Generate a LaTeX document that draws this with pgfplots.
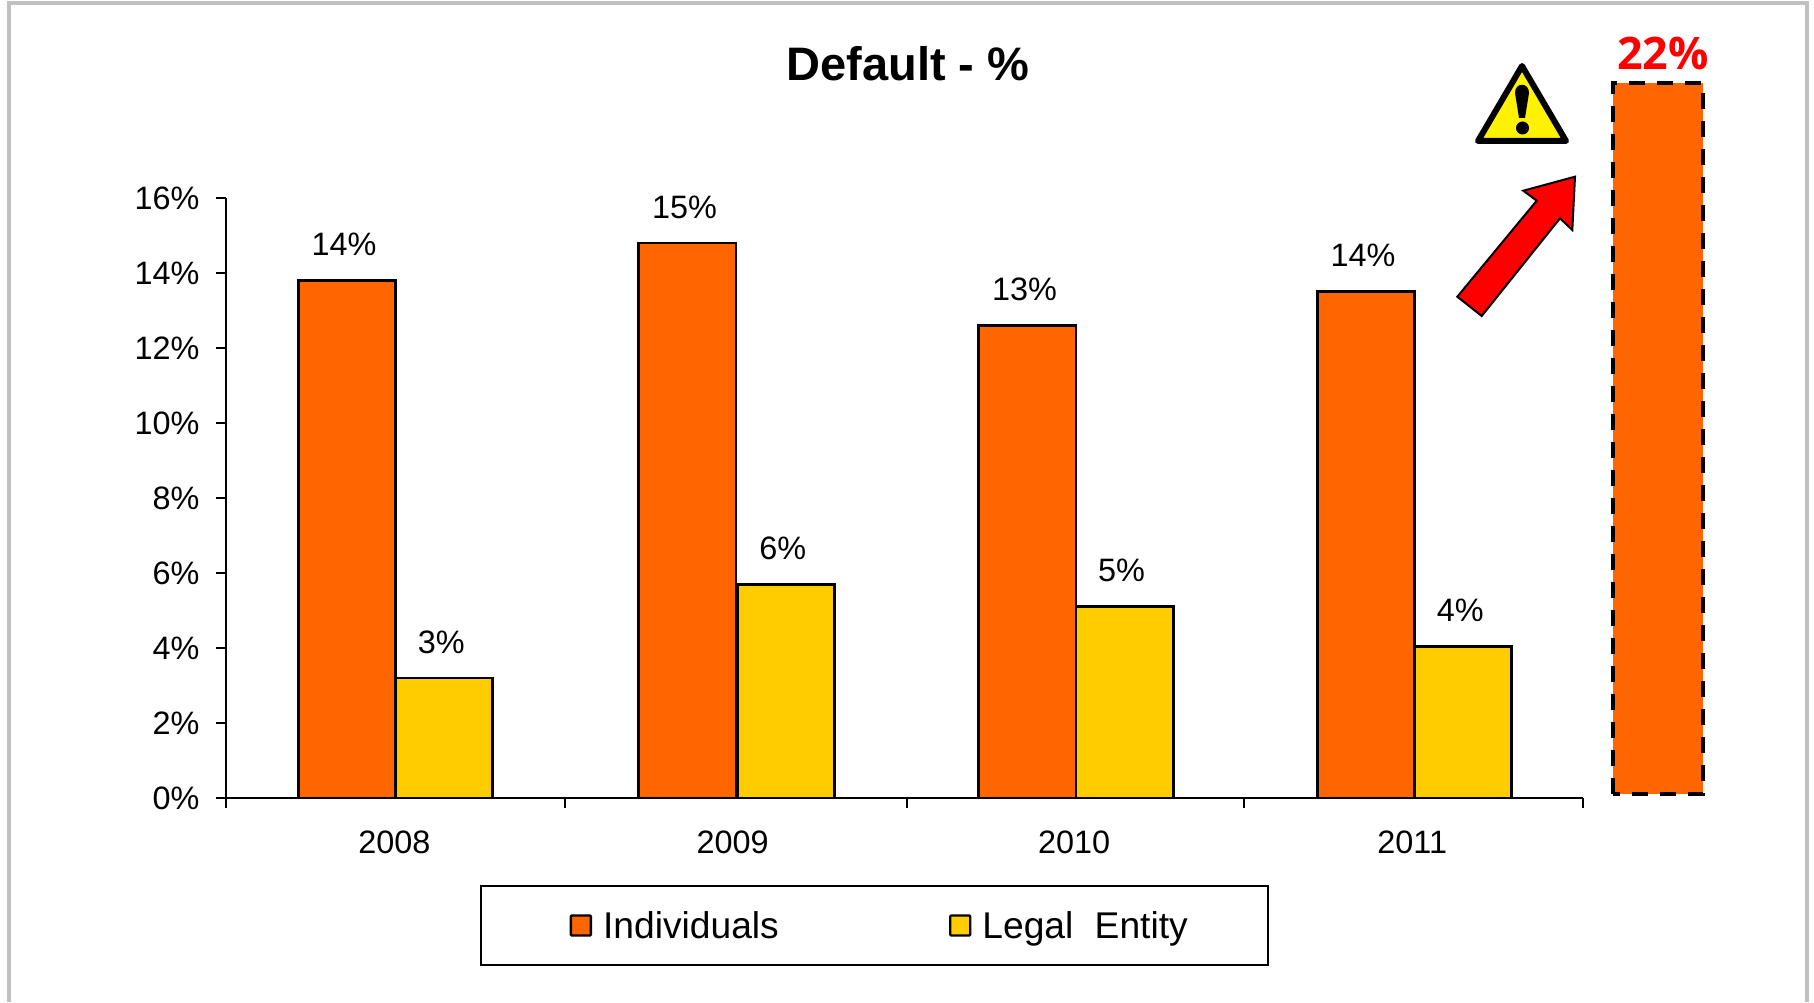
\documentclass[border=0pt]{standalone}
\usepackage{pgfplots}
\pgfplotsset{compat=1.18}
\usepackage{fontspec}
\setmainfont{Liberation Sans}
\newfontfamily\osans{Open Sans}
\definecolor{barorange}{HTML}{FF6600}
\definecolor{baryellow}{HTML}{FFCC00}
\definecolor{framegray}{HTML}{C0C0C0}
\begin{document}
\begin{tikzpicture}
\useasboundingbox (-113pt,-102pt) rectangle (794pt,399pt);
\begin{axis}[
  scale only axis, width=678.5pt, height=300pt,
  at={(0,0)}, anchor=origin,
  clip=false,
  xmin=0, xmax=4, ymin=0, ymax=16,
  axis x line=bottom, axis y line=left,
  axis line style={-, line width=1.1pt, black},
  tick style={black, line width=1.1pt},
  tick align=outside, major tick length=5pt,
  ytick={0,2,...,16},
  yticklabel={\pgfmathprintnumber[assume math mode=true]{\tick}\%},
  xtick={0,1,2.008,3,4}, xticklabels={},
  extra x ticks={0.4966,1.4932,2.5,3.4966},
  extra x tick labels={2008,2009,2010,2011},
  extra x tick style={major tick length=0pt},
  /pgf/number format/assume math mode=true,
  /pgf/number format/1000 sep={},
  tick label style={font=\fontsize{16.2}{18}\selectfont},
  yticklabel style={xshift=-4.7pt},
  xticklabel style={yshift=-13pt},
  title={Default - \%},
  title style={at={(rel axis cs:0.5026,1.2043)}, anchor=center, font=\fontsize{23.5}{26}\selectfont\bfseries},
  legend style={at={(rel axis cs:0.4777,-0.2125)}, anchor=center, legend columns=2,
    draw=black, line width=1.1pt, font=\fontsize{18.6}{21}\selectfont,
    inner xsep=37.9pt, inner ysep=10.6pt,
    /tikz/column 1/.style={column sep=3.5pt},
    /tikz/column 2/.style={column sep=76.6pt},
    /tikz/column 3/.style={column sep=3.5pt}},
  legend image code/.code={\path (-6.4pt,0pt); \draw[#1, line width=1.2pt, solid, rounded corners=0.5pt] (0pt,-5pt) rectangle (10pt,5pt);},
  nodes near coords style={font=\fontsize{16.2}{18}\selectfont, black, xshift=-1.45pt, yshift=8.3pt},
]
\addplot[ybar, bar width=0.2865, bar shift=0pt, fill=barorange, draw=black, line width=1.4pt,
  nodes near coords={\pgfmathprintnumber[fixed,precision=0]{\pgfplotspointmeta}\%}]
  coordinates {(0.3568,13.8)(1.3602,14.8)(2.3621,12.6)(3.3602,13.5)};
\addlegendentry{\raisebox{-1pt}{Individuals}}
\addplot[ybar, bar width=0.2865, bar shift=0pt, fill=baryellow, draw=black, line width=1.4pt,
  nodes near coords={\pgfmathprintnumber[fixed,precision=0]{\pgfplotspointmeta}\%}]
  coordinates {(0.6432,3.2)(1.65,5.7)(2.6485,5.1)(3.6466,4.04)};
\addlegendentry{\raisebox{-1pt}{Legal\hspace{5.5pt} Entity}}
\addplot[sharp plot, forget plot, fill=barorange, draw=black, line width=1.8pt, dash pattern=on 8pt off 6pt]
  coordinates {(4.088,0.1)(4.088,19.07)(4.354,19.07)(4.354,0.1)} --cycle;
\end{axis}
\begin{scope}[x=0.5pt,y=-0.5pt,shift={(-113pt,399pt)}]
  % panel frame
  \draw[framegray, line width=2pt] (9.5,1002) -- (9.5,3.5) -- (1807,3.5) -- (1807,1002);
  % 22% label
  \node[text=red, font=\osans\fontsize{22.4}{25}\selectfont\bfseries, anchor=center] at (1663,53) {22\%};
  % warning sign
  \draw[black, fill=yellow, line width=3pt, line join=round] (1522,66) -- (1478,141) -- (1566,141) -- cycle;
  \fill[black] (1515,93) .. controls (1515,82) and (1529,82) .. (1529,93) -- (1525,118) -- (1519,118) -- cycle;
  \fill[black] (1522.5,128) circle (6.5);
  % arrow
  \draw[black, fill=red, line width=1pt, line join=miter]
    (1457.3,296.7) -- (1536.7,200.7) -- (1523.3,190.7) -- (1575,176.7) -- (1572.3,230) -- (1560,218.3) -- (1481.7,316) -- cycle;
\end{scope}
\end{tikzpicture}
\end{document}
